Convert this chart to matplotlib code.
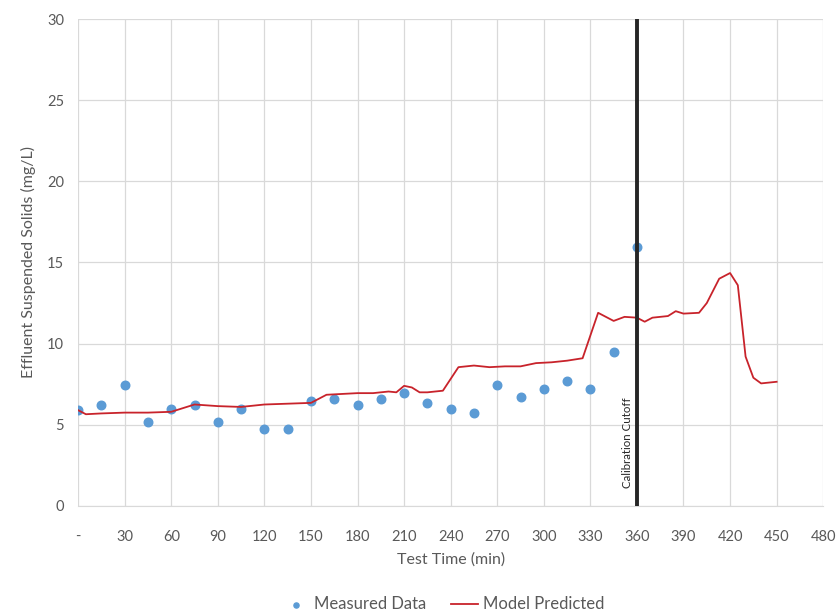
import matplotlib.pyplot as plt

plt.rcParams['font.family'] = ['Lato', 'DejaVu Sans']

# measured effluent SS, every 15 min
meas_t = [0, 15, 30, 45, 60, 75, 90, 105, 120, 135, 150, 165, 180, 195, 210,
          225, 240, 255, 270, 285, 300, 315, 330, 345, 360]
meas_v = [5.9, 6.2, 7.45, 5.2, 6.0, 6.2, 5.2, 6.0, 4.75, 4.75, 6.45, 6.6, 6.2,
          6.6, 6.95, 6.35, 5.97, 5.73, 7.45, 6.7, 7.2, 7.7, 7.2, 9.5, 15.95]

# model prediction
model_t = [0, 5, 15, 30, 45, 60, 75, 90, 105, 120, 135, 150, 160, 170, 180,
           190, 200, 205, 210, 215, 220, 225, 235, 245, 255, 265, 275, 285,
           295, 305, 315, 325, 335, 345, 352, 360, 365, 370, 380, 385, 390,
           400, 405, 413, 420, 425, 430, 435, 440, 445, 450]
model_v = [5.9, 5.65, 5.7, 5.75, 5.75, 5.8, 6.25, 6.15, 6.1, 6.25, 6.3, 6.35,
           6.85, 6.9, 6.95, 6.95, 7.05, 7.0, 7.4, 7.3, 7.0, 7.0, 7.1, 8.55,
           8.65, 8.55, 8.6, 8.6, 8.8, 8.85, 8.95, 9.1, 11.9, 11.4, 11.65, 11.6,
           11.35, 11.6, 11.7, 12.0, 11.85, 11.9, 12.5, 14.0, 14.35, 13.6, 9.2,
           7.9, 7.55, 7.6, 7.65]

xticks = list(range(0, 481, 30))
xlabels = ['-'] + [str(v) for v in xticks[1:]]
cutoff = 360

grey = '#595959'
fig = plt.figure(figsize=(8.4, 6.14), dpi=100)
ax = fig.add_axes([0.093, 0.176, 0.887, 0.793])

ax.scatter(meas_t, meas_v, s=38, color='#5b9bd5', zorder=3, label='Measured Data')
ax.plot(model_t, model_v, color='#c8232b', lw=1.3, zorder=4, label='Model Predicted')
ax.axvline(cutoff, color='#262626', lw=2.8, zorder=5)
ax.text(cutoff - 2.5, 1.1, 'Calibration Cutoff', rotation=90, fontsize=8.3,
        ha='right', va='bottom', color='#262626')

ax.set_xlim(0, 480)
ax.set_ylim(0, 30)
ax.set_xticks(xticks)
ax.set_xticklabels(xlabels)
ax.set_yticks(range(0, 31, 5))
ax.grid(True, color='#d9d9d9', lw=0.9)
ax.set_axisbelow(True)
for s in ['top', 'right', 'left']:
    ax.spines[s].set_visible(False)
ax.spines['bottom'].set_color('#d9d9d9')
ax.tick_params(length=0, colors=grey, labelsize=10.5)
ax.tick_params(axis='x', pad=17)
ax.tick_params(axis='y', pad=10)

ax.set_xlabel('Test Time (min)', color=grey, fontsize=11.5, labelpad=6)
ax.set_ylabel('Effluent Suspended Solids (mg/L)', color=grey, fontsize=11.5, labelpad=8)

ax.legend(loc='upper center', bbox_to_anchor=(0.49, -0.155), ncol=2, frameon=False,
          fontsize=12, labelcolor=grey, handlelength=1.6, columnspacing=1.5,
          handletextpad=0.3, markerscale=0.6)

fig.savefig('out.png', dpi=100)
